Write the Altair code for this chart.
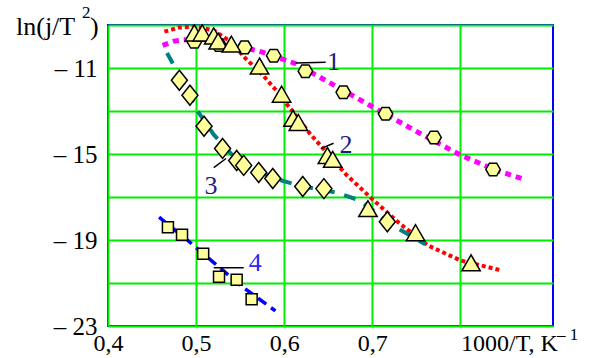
import altair as alt
import pandas as pd

# ---- data ----
s1_x = [0.498, 0.526, 0.555, 0.588, 0.624, 0.667, 0.715, 0.770, 0.837]
s1_y = [-9.78, -9.93, -10.04, -10.43, -11.15, -12.13, -13.13, -14.23, -15.72]

s2_x = [0.498, 0.507, 0.520, 0.525, 0.540, 0.572, 0.597, 0.610, 0.616, 0.649, 0.655, 0.695, 0.749, 0.812]
s2_y = [-9.37, -9.37, -9.51, -9.75, -9.89, -10.91, -12.22, -13.34, -13.53, -15.07, -15.25, -17.54, -18.66, -20.06]

s3_x = [0.481, 0.493, 0.509, 0.530, 0.546, 0.554, 0.571, 0.587, 0.621, 0.645, 0.717]
s3_y = [-11.57, -12.27, -13.71, -14.74, -15.30, -15.53, -15.86, -16.14, -16.51, -16.61, -18.15]

s4_x = [0.468, 0.484, 0.508, 0.526, 0.546, 0.563]
s4_y = [-18.41, -18.75, -19.64, -20.71, -20.85, -21.75]

l1_x = [0.462, 0.475, 0.49, 0.51, 0.54, 0.575, 0.613, 0.65, 0.70, 0.75, 0.80, 0.84, 0.87]
l1_y = [-9.95, -9.75, -9.68, -9.70, -9.90, -10.26, -10.80, -11.65, -12.80, -13.95, -15.05, -15.75, -16.15]

l2_x = [0.464, 0.48, 0.50, 0.52, 0.54, 0.556, 0.575, 0.59, 0.61, 0.63, 0.65, 0.67, 0.70, 0.73, 0.763, 0.80, 0.845]
l2_y = [-9.31, -9.12, -9.08, -9.25, -9.80, -10.55, -11.30, -12.00, -13.05, -14.10, -15.00, -15.95, -17.10, -18.20, -19.25, -19.95, -20.40]

l3_x = [0.467, 0.475, 0.485, 0.50, 0.52, 0.54, 0.56, 0.59, 0.62, 0.66, 0.685, 0.70, 0.72, 0.76]
l3_y = [-10.30, -10.90, -11.70, -12.90, -14.10, -15.00, -15.60, -16.15, -16.50, -16.80, -17.15, -17.60, -18.25, -19.20]

l4_x = [0.458, 0.49, 0.52, 0.55, 0.59]
l4_y = [-17.94, -19.00, -20.05, -21.10, -22.30]

lab_text = ["1", "2", "3", "4"]
lab_x = [0.656, 0.670, 0.517, 0.567]
lab_y = [-10.73, -14.60, -16.47, -20.06]
lab_color = ["#1c1c80", "#1c1c80", "#1c1c80", "#2a2aee"]

lead_x = [0.613, 0.642, 0.520, 0.520]
lead_x2 = [0.647, 0.656, 0.534, 0.554]
lead_y = [-10.77, -14.74, -15.63, -20.29]
lead_y2 = [-10.73, -14.50, -15.21, -20.29]

x_ticks = [0.4, 0.5, 0.6, 0.7, 0.8]
y_grid = [-23, -21, -19, -17, -15, -13, -11, -9]

FONT = "Liberation Serif"

xscale = alt.Scale(domain=[0.4, 0.905], nice=False, zero=False)
yscale = alt.Scale(domain=[-23, -9], nice=False, zero=False)

xaxis = alt.Axis(
    values=x_ticks, title=None, domain=False, ticks=False, grid=True,
    gridColor="#00ee00", gridWidth=2, labelFont=FONT, labelFontSize=24,
    labelColor="black", labelPadding=5, labelOverlap=False, labelFlush=False,
    labelBound=False,
    labelAlign={"condition": {"test": "datum.value > 0.75", "value": "left"}, "value": "center"},
    labelExpr="datum.value > 0.75 ? '1000/T, K' : replace(format(datum.value, '.1f'), '.', ',')",
)
yaxis = alt.Axis(
    values=y_grid, title=None, domain=False, ticks=False, grid=True,
    gridColor="#00ee00", gridWidth=2, labelFont=FONT, labelFontSize=25,
    labelColor="black", labelPadding=11, labelOverlap=False, labelFlush=False,
    labelBound=False,
    labelExpr="(datum.value + 23) % 4 == 0 && datum.value < -10 ? '– ' + abs(datum.value) : ''",
)


def X(f):
    return alt.X(f, type="quantitative", scale=xscale, axis=xaxis)


def Y(f):
    return alt.Y(f, type="quantitative", scale=yscale, axis=yaxis)


def line(xs, ys, color, width, dash):
    df = pd.DataFrame({"x": xs, "y": ys, "o": list(range(len(xs)))})
    return alt.Chart(df).mark_line(color=color, strokeWidth=width, strokeDash=dash, clip=True).encode(
        x=X("x"), y=Y("y"), order="o:Q")


def pts(xs, ys, shape, size):
    df = pd.DataFrame({"x": xs, "y": ys})
    return alt.Chart(df).mark_point(shape=shape, size=size, fill="#ffff99", stroke="black",
                                    strokeWidth=1.5, fillOpacity=1, opacity=1).encode(x=X("x"), y=Y("y"))


hexagon = "M-0.5,-0.866L0.5,-0.866L1,0L0.5,0.866L-0.5,0.866L-1,0Z"
tall_diamond = "M0,-1L0.8,0L0,1L-0.8,0Z"

lines = [
    line(l1_x, l1_y, "#ff00ff", 5, [6, 5]),
    line(l2_x, l2_y, "#ff0000", 4, [4, 3]),
    line(l3_x, l3_y, "#008080", 4, [12, 10]),
    line(l4_x, l4_y, "#0000ff", 3.5, [10, 6]),
]

lead_df = pd.DataFrame({"x": lead_x, "x2": lead_x2, "y": lead_y, "y2": lead_y2})
leaders = alt.Chart(lead_df).mark_rule(color="black", strokeWidth=1.5).encode(
    x=X("x"), x2="x2", y=Y("y"), y2="y2")

markers = [
    pts(s1_x, s1_y, hexagon, 210),
    pts(s3_x, s3_y, tall_diamond, 400),
    pts(s4_x, s4_y, "square", 121),
    pts(s2_x, s2_y, "triangle-up", 340),
]

lab_df = pd.DataFrame({"x": lab_x, "y": lab_y, "t": lab_text, "c": lab_color})
labels = alt.Chart(lab_df).mark_text(font=FONT, fontSize=26, align="center", baseline="middle").encode(
    x=X("x"), y=Y("y"), text="t:N", color=alt.Color("c:N", scale=None))

# axis titles (text pieces for superscripts)
t_df = pd.DataFrame({"a": [0]})
title_main = alt.Chart(t_df).mark_text(text="ln(j/T", font=FONT, fontSize=26, align="left",
                                       baseline="alphabetic", color="black").encode(
    x=alt.value(-92), y=alt.value(10))
title_sup = alt.Chart(t_df).mark_text(text="2", font=FONT, fontSize=17, align="left",
                                      baseline="alphabetic", color="black").encode(
    x=alt.value(-26), y=alt.value(-7))
title_par = alt.Chart(t_df).mark_text(text=")", font=FONT, fontSize=26, align="left",
                                      baseline="alphabetic", color="black").encode(
    x=alt.value(-18), y=alt.value(10))
xsup = alt.Chart(t_df).mark_text(text="–  1", font=FONT, fontSize=17, align="left",
                                 baseline="alphabetic", color="black").encode(
    x=alt.value(449), y=alt.value(315))

chart = alt.layer(
    *lines, leaders, *markers, labels, title_main, title_sup, title_par, xsup
).properties(
    width=445, height=301,
    autosize=alt.AutoSizeParams(type="none"),
    padding={"left": 108, "top": 25, "right": 49, "bottom": 32},
    background="white",
).configure_view(stroke="#0000ff", strokeWidth=2)

chart.save("out.html", embed_options={"renderer": "svg", "actions": False})
